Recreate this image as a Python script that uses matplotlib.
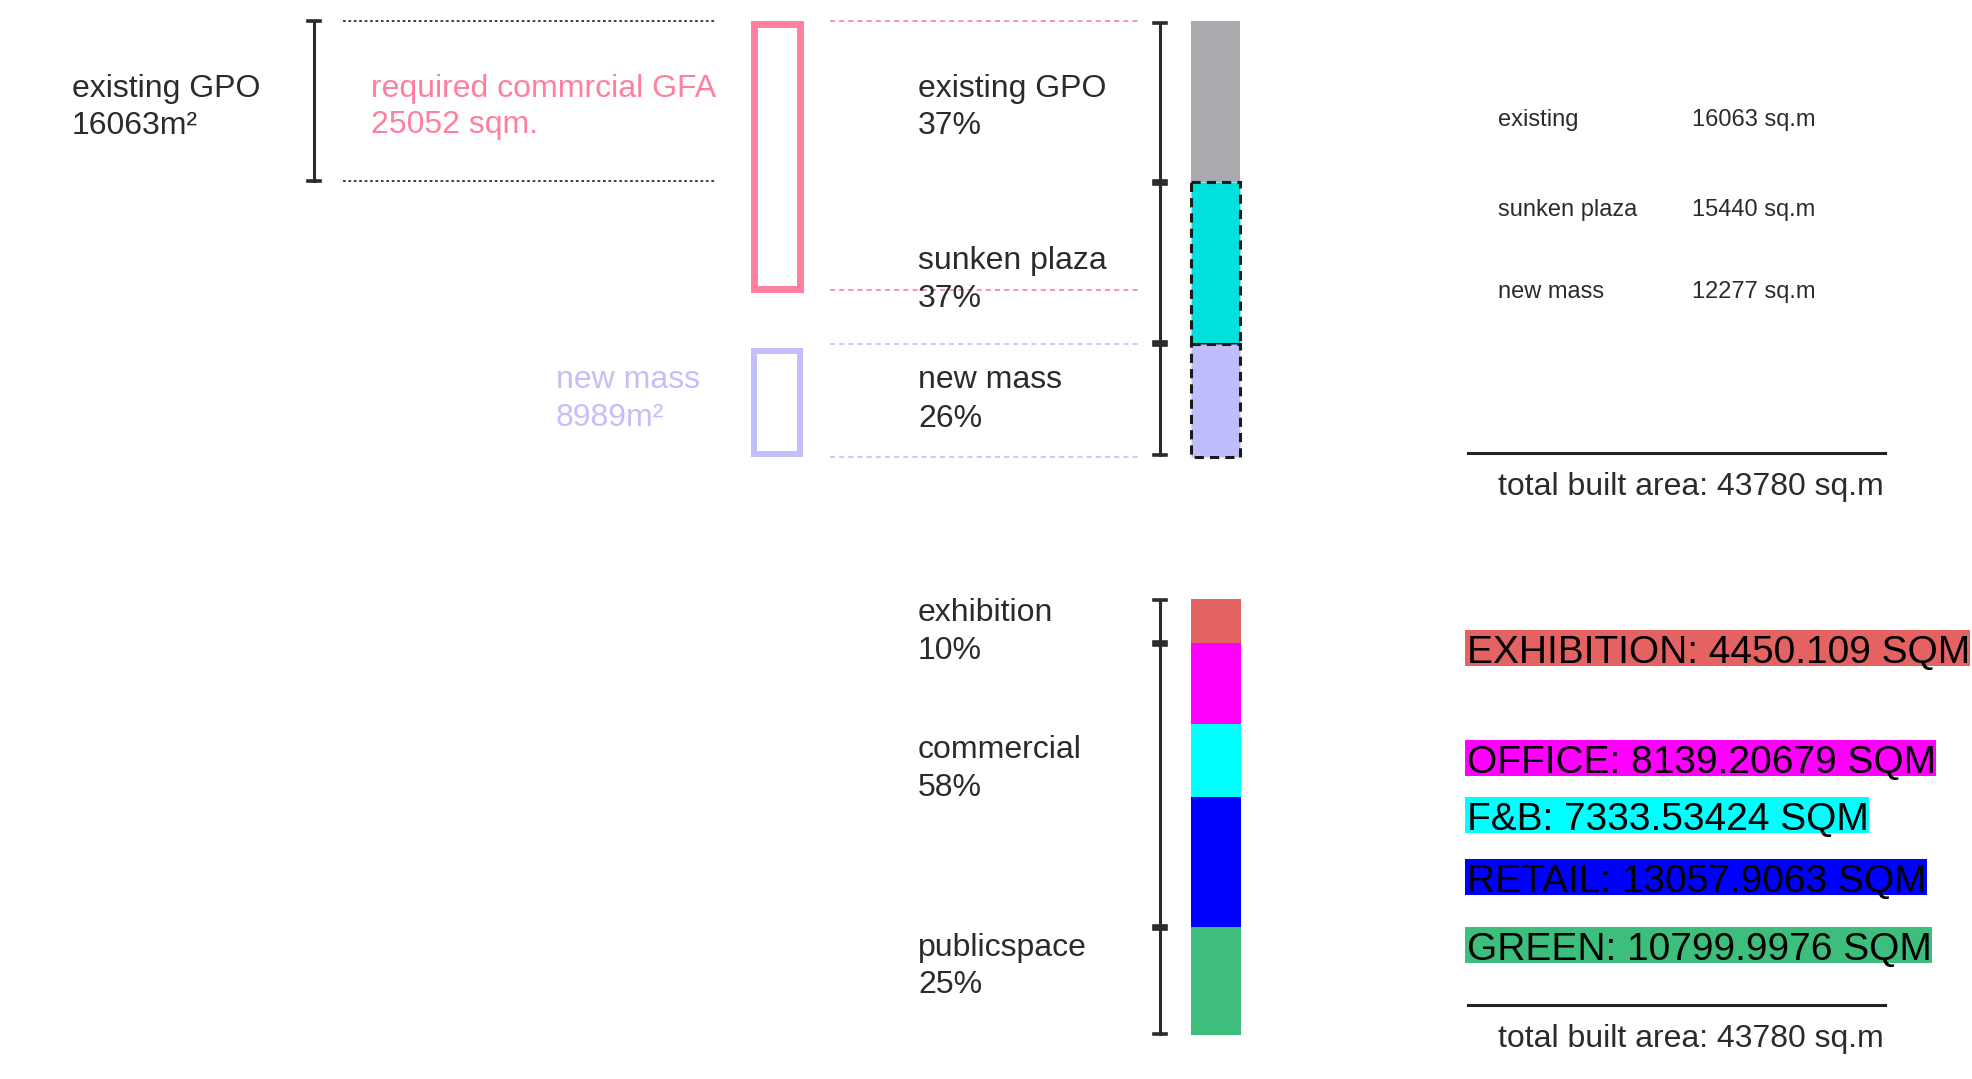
import numpy as np
import matplotlib
matplotlib.use("Agg")
import matplotlib.pyplot as plt
from matplotlib.patches import Rectangle

plt.rcParams['font.family'] = ['Liberation Sans', 'DejaVu Sans']

# ---- data ----
top_names = ['existing GPO', 'sunken plaza', 'new mass']
top_pct = [37, 37, 26]
top_area = [16063, 15440, 12277]
top_colors = ['#a9aaad', '#00e0dc', '#c0bdfd']
top_dashed = [False, True, True]

existing_area = 16063
required_gfa = 25052
new_mass_req = 8989
req_span = [0.6, 61.4]      # pink guide box, % of the top bar
new_span = [75.6, 99.2]     # lavender guide box

prog_names = ['EXHIBITION', 'OFFICE', 'F&B', 'RETAIL', 'GREEN']
prog_area = ['4450.109', '8139.20679', '7333.53424', '13057.9063', '10799.9976']
prog_colors = ['#e46262', '#ff00ff', '#00ffff', '#0000ff', '#3dbe7d']
group_names = ['exhibition', 'commercial', 'publicspace']
group_pct = [10, 58, 25]
group_size = [1, 3, 1]
total_area = 43780

W, H = 1972, 1079
TXT = '#2b2b2b'
PINK = '#ff7f9c'
LAV = '#c2bffb'
FS = 23
DY = 3  # small downward nudge for text lines

fig = plt.figure(figsize=(W / 100, H / 100), dpi=100)


def box(x0, y0, x1, y1):
    return [x0 / W, 1 - y1 / H, (x1 - x0) / W, (y1 - y0) / H]


def bracket(ax, x, spans, eps):
    for s, e in spans:
        ax.plot([x, x], [s + eps, e - eps], color=TXT, lw=2.2, clip_on=False)
        for y in (s + eps, e - eps):
            ax.plot([x - 6, x + 6], [y, y], color=TXT, lw=2.6, clip_on=False)


# ---- top section (y in % of total) ----
ax_t = fig.add_axes(box(0, 21, W, 457))
ax_t.set_xlim(0, W)
ax_t.set_ylim(100, 0)
ax_t.axis('off')

bottoms = np.concatenate([[0], np.cumsum(top_pct)[:-1]])
for b, h, c, d in zip(bottoms, top_pct, top_colors, top_dashed):
    if d:
        ax_t.bar(1215.5, h, bottom=b, width=49, color=c, edgecolor='#1a1a1a',
                 linestyle=(0, (3, 2)), linewidth=2.2, clip_on=False)
    else:
        ax_t.bar(1215.5, h, bottom=b, width=49, color=c, linewidth=0, clip_on=False)

bracket(ax_t, 1160, [(bottoms[i], bottoms[i] + top_pct[i]) for i in range(3)], 0.35)
bracket(ax_t, 314, [(0, top_pct[0] - 0.4)], 0.0)

for y in (0, top_pct[0] - 0.4):
    ax_t.plot([343, 714], [y, y], color='#333333', lw=1.3, ls=(0, (1.5, 1.5)), clip_on=False)
for y in (0, req_span[1] + 0.3):
    ax_t.plot([830, 1138], [y, y], color=PINK, lw=1.2, ls=(0, (3, 2.5)), clip_on=False)
for y in (bottoms[2], 100):
    ax_t.plot([830, 1138], [y, y], color=LAV, lw=1.2, ls=(0, (3, 2.5)), clip_on=False)

ax_t.add_patch(Rectangle((754, req_span[0]), 46, req_span[1] - req_span[0],
                         fill=False, edgecolor=PINK, lw=5, clip_on=False))
ax_t.add_patch(Rectangle((754, new_span[0]), 46, new_span[1] - new_span[0],
                         fill=False, edgecolor=LAV, lw=4.3, clip_on=False))

# ---- bottom section (y in sq.m) ----
vals = [float(v) for v in prog_area]
ax_b = fig.add_axes(box(0, 599, W, 1035))
ax_b.set_xlim(0, W)
ax_b.set_ylim(sum(vals), 0)
ax_b.axis('off')
pb = np.concatenate([[0], np.cumsum(vals)[:-1]])
ax_b.bar(1216, vals, bottom=pb, width=50, color=prog_colors, linewidth=0, clip_on=False)

edges = np.concatenate([[0], np.cumsum(vals)])
gi = np.concatenate([[0], np.cumsum(group_size)])
bracket(ax_b, 1160, [(edges[gi[i]], edges[gi[i + 1]]) for i in range(3)], 150)

# ---- text layer (pixel coords) ----
ax = fig.add_axes([0, 0, 1, 1])
ax.set_xlim(0, W)
ax.set_ylim(H, 0)
ax.axis('off')
ax.patch.set_alpha(0)


def label(x, y, s, fs=FS, color=TXT):
    return ax.text(x, y + DY, s, fontsize=fs, color=color, va='center')


label(72, 86, 'existing GPO')
label(72, 123, f'{existing_area}m²')
label(371, 86, 'required commrcial GFA', color=PINK)
label(371, 122, f'{required_gfa} sqm.', color=PINK)
label(556, 377, 'new mass', color=LAV)
label(556, 415, f'{new_mass_req}m²', color=LAV)

for (y1, y2), n, p in zip([(86, 123), (258, 296), (377, 416)], top_names, top_pct):
    label(918, y1, n)
    label(918, y2, f'{p}%')

short = ['existing', 'sunken plaza', 'new mass']
for y, n, a in zip([117, 207, 289], short, top_area):
    label(1498, y, n, fs=17)
    label(1692, y, f'{a} sq.m', fs=17)

for yl, yt in [(453, 484), (1005, 1036)]:
    ax.plot([1468, 1885], [yl, yl], color='#222222', lw=2.2)
    label(1498, yt, f'total built area: {total_area} sq.m')

for (y1, y2), n, p in zip([(610, 648), (747, 785), (945, 982)], group_names, group_pct):
    label(918, y1, n)
    label(918, y2, f'{p}%')

# programme labels on colour strips sized to the text width
prog_texts = []
for y, n, a in zip([648, 758, 815, 877, 945], prog_names, prog_area):
    t = ax.text(1467, y + 5, f'{n}: {a} SQM', fontsize=28, color='black', va='center', zorder=3)
    prog_texts.append((t, y))

fig.canvas.draw()
r = fig.canvas.get_renderer()
inv = ax.transData.inverted()
for (t, y), c in zip(prog_texts, prog_colors):
    bb = t.get_window_extent(r)
    (x0, _), (x1, _) = inv.transform([[bb.x0, 0], [bb.x1, 0]])
    ax.add_patch(Rectangle((x0 - 2, y - 18), (x1 - x0) + 2, 36,
                           facecolor=c, edgecolor='none', zorder=2))

fig.savefig('out.png', dpi=100, facecolor='white')
